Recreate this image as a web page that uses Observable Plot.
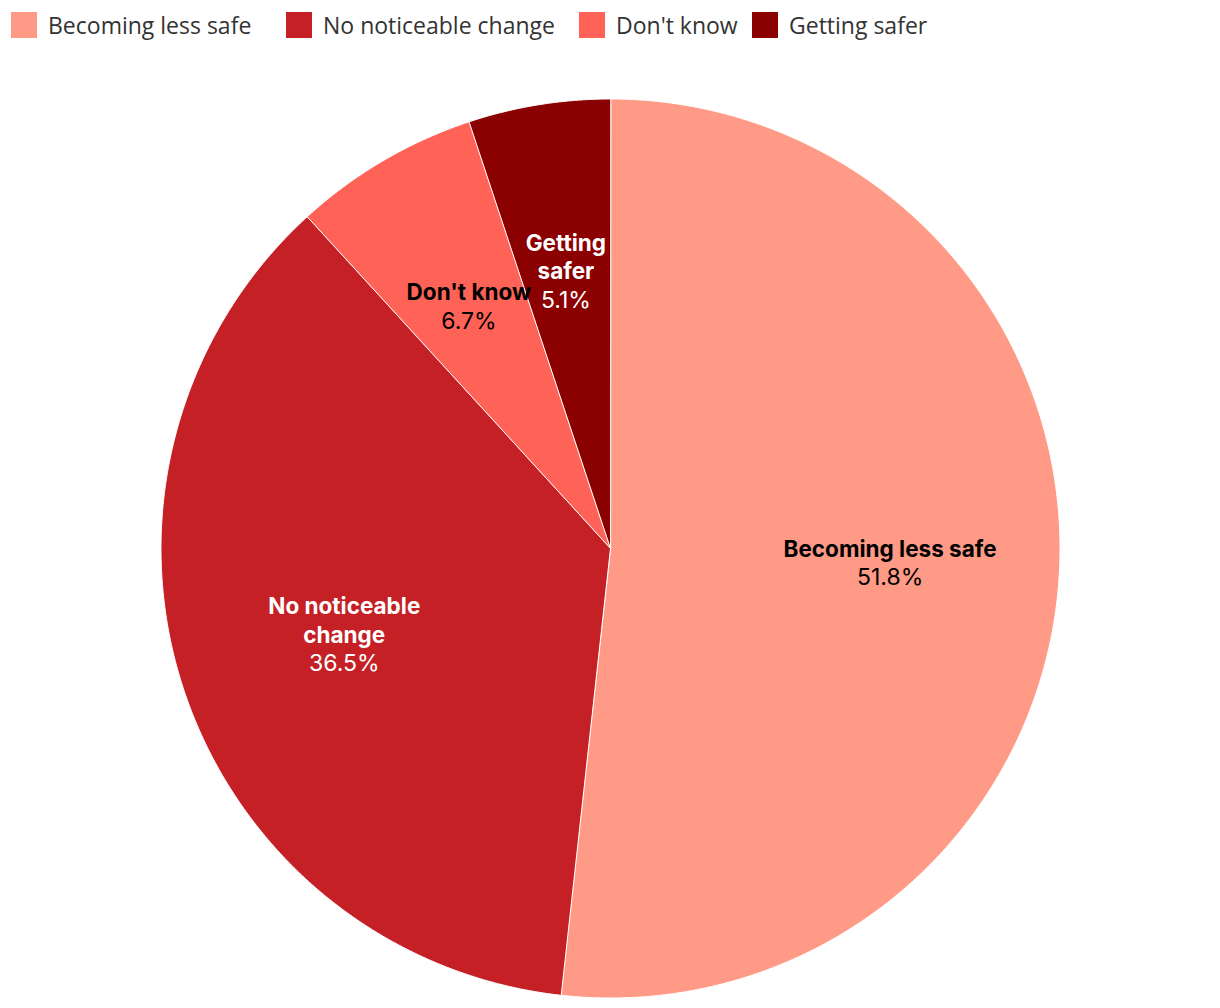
<!DOCTYPE html>
<html>
<head>
<meta charset="utf-8">
<script src="https://cdn.jsdelivr.net/npm/d3@7"></script>
<script src="https://cdn.jsdelivr.net/npm/@observablehq/plot@0.6"></script>
<style>
  html, body { margin: 0; padding: 0; background: #fff; }
  body { width: 1220px; height: 1008px; overflow: hidden; font-family: "Open Sans", sans-serif; }
  #legend { position: relative; height: 48px; }
  .item { position: absolute; top: 11px; display: flex; align-items: center; height: 27px; }
  .sw { width: 26px; height: 26px; margin-right: 11px; }
  .lbl { font-size: 23px; color: #333; white-space: nowrap; }
  svg { display: block; }
</style>
</head>
<body>
<div id="legend"></div>
<div id="chart"></div>
<script>
const categories = ["Becoming less safe", "No noticeable change", "Don't know", "Getting safer"];
const values = [51.8, 36.5, 6.7, 5.1];
const colors = ["#fe9a86", "#c42026", "#ff6257", "#8b0000"];
const labelLines = [["Becoming less safe"], ["No noticeable", "change"], ["Don't know"], ["Getting", "safer"]];
const labelColors = ["#000", "#fff", "#000", "#fff"];
const legendX = [11, 286, 579, 752];

// legend
const leg = document.getElementById("legend");
categories.forEach((c, i) => {
  const it = document.createElement("div");
  it.className = "item";
  it.style.left = legendX[i] + "px";
  it.innerHTML = `<div class="sw" style="background:${colors[i]}"></div><div class="lbl"></div>`;
  it.querySelector(".lbl").textContent = c;
  leg.appendChild(it);
});

// pie geometry from data
const pie = d3.pie().sort(null).value(d => d)(values);
const points = [];
pie.forEach((p, i) => {
  const a0 = p.startAngle, a1 = p.endAngle;
  points.push({key: categories[i], x: 0, y: 0});
  const n = Math.max(2, Math.ceil((a1 - a0) / (Math.PI / 720)));
  for (let k = 0; k <= n; k++) {
    const a = a0 + (a1 - a0) * k / n;
    points.push({key: categories[i], x: Math.sin(a), y: Math.cos(a)});
  }
});

const R = 449.5;
const LH = 28.5 / R;
const rLab = 0.623;
const texts = [];
pie.forEach((p, i) => {
  const a = (p.startAngle + p.endAngle) / 2;
  const cx = rLab * Math.sin(a), cy = rLab * Math.cos(a);
  const lines = labelLines[i].map(t => ({t, bold: true}));
  lines.push({t: values[i].toFixed(1) + "%", bold: false});
  const n = lines.length;
  lines.forEach((l, j) => {
    texts.push({x: cx, y: cy - (j - (n - 1) / 2) * LH, text: l.t, bold: l.bold, color: labelColors[i]});
  });
});

const H = 960;
const cyPx = 500;
const chart = Plot.plot({
  width: 1220,
  height: H,
  margin: 0,
  x: {domain: [-1, 1], range: [610 - R, 610 + R], axis: null},
  y: {domain: [-1, 1], range: [cyPx + R, cyPx - R], axis: null},
  color: {domain: categories, range: colors},
  style: {fontFamily: "Inter, sans-serif"},
  marks: [
    Plot.line(points, {x: "x", y: "y", z: "key", fill: "key", stroke: "white", strokeWidth: 1, curve: "linear-closed"}),
    Plot.text(texts.filter(d => d.bold), {x: "x", y: "y", text: "text", fill: "color", fontSize: 22.5, fontWeight: "bold"}),
    Plot.text(texts.filter(d => !d.bold), {x: "x", y: "y", text: "text", fill: "color", fontSize: 23})
  ]
});
document.getElementById("chart").appendChild(chart);
</script>
</body>
</html>
